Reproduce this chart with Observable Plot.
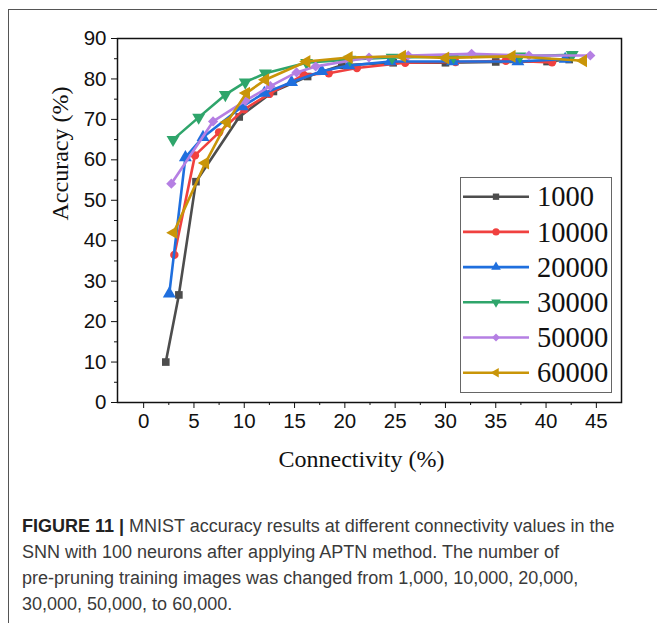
<!DOCTYPE html>
<html>
<head>
<meta charset="utf-8">
<script src="https://cdn.jsdelivr.net/npm/d3@7"></script>
<script src="https://cdn.jsdelivr.net/npm/@observablehq/plot@0.6"></script>
<style>
  html, body { margin: 0; padding: 0; background: #fff; }
  #page { position: relative; width: 657px; height: 623px; overflow: hidden; background: #fff; }
  #border { position: absolute; left: 8px; top: 8.5px; width: 700px; height: 700px;
            border-left: 1.5px solid #555; border-top: 1.5px solid #555; }
  #chart { position: absolute; left: 0; top: 0; }
  #legend { position: absolute; left: 460px; top: 177px; }
  #caption { position: absolute; left: 22px; top: 513px; width: 630px;
             font-family: "Liberation Sans Narrow", "Liberation Sans", Arial, sans-serif;
             font-size: 18px; line-height: 26px; color: #3a3a3a; }
  #caption b { color: #222; }
</style>
</head>
<body>
<div id="page">
  <div id="border"></div>
  <div id="chart"></div>
  <div id="legend"></div>
  <div id="caption"><b>FIGURE 11 |</b> MNIST accuracy results at different connectivity values in the<br>SNN with 100 neurons after applying APTN method. The number of<br>pre-pruning training images was changed from 1,000, 10,000, 20,000,<br>30,000, 50,000, to 60,000.</div>
</div>
<script>
// ---- data ----
const seriesNames = ["1000", "10000", "20000", "30000", "50000", "60000"];

const x1000 = [2.2, 3.5, 5.2, 9.5, 12.9, 16.3, 19.7, 24.8, 30.0, 35.0, 40.1, 42.3];
const y1000 = [10.0, 26.6, 54.6, 70.6, 76.9, 80.6, 83.4, 84.0, 84.0, 84.2, 84.3, 84.8];

const x10000 = [3.05, 5.1, 7.5, 10.0, 12.5, 15.9, 18.4, 21.2, 26.0, 31.0, 36.0, 40.6];
const y10000 = [36.5, 61.1, 66.8, 72.5, 76.3, 81.0, 81.4, 82.7, 84.0, 84.2, 84.5, 84.1];

const x20000 = [2.55, 4.15, 5.9, 9.8, 12.0, 14.7, 17.7, 20.4, 24.5, 30.7, 37.2, 41.9];
const y20000 = [26.9, 60.6, 65.6, 73.2, 76.5, 79.2, 81.9, 83.3, 84.3, 84.3, 84.3, 84.9];

const x30000 = [2.92, 5.47, 8.12, 10.1, 12.1, 16.2, 20.5, 24.7, 30.8, 37.4, 42.6];
const y30000 = [65.0, 70.5, 76.1, 79.2, 81.4, 84.0, 84.8, 85.3, 85.5, 85.6, 86.0];

const x50000 = [2.75, 6.9, 10.1, 12.6, 15.2, 17.1, 22.4, 26.3, 32.6, 38.3, 44.4];
const y50000 = [54.1, 69.5, 74.6, 78.2, 81.6, 83.1, 85.3, 85.8, 86.2, 85.8, 85.8];

const x60000 = [2.98, 6.13, 8.29, 10.2, 12.1, 16.2, 20.4, 25.7, 30.0, 36.6, 43.7];
const y60000 = [42.0, 59.2, 69.3, 76.5, 79.8, 84.3, 85.3, 85.6, 85.2, 85.6, 84.5];

const xTicks = [0, 5, 10, 15, 20, 25, 30, 35, 40, 45];
const yTicks = [0, 10, 20, 30, 40, 50, 60, 70, 80, 90];
const xTitle = "Connectivity (%)";
const yTitle = "Accuracy (%)";

// ---- styles ----
const colors = ["#4d4d4d", "#f0413f", "#1f6fde", "#2fa56b", "#b57fe3", "#c99508"];
const symbols = ["square", "circle", "triangle", "triangle", "diamond2", "triangle"];
const rotations = [0, 0, 0, 180, 0, -90];
const sizes = [4.3, 4.2, 4.8, 4.8, 4.6, 4.8];

const xsAll = [x1000, x10000, x20000, x30000, x50000, x60000];
const ysAll = [y1000, y10000, y20000, y30000, y50000, y60000];

const series = seriesNames.map((name, i) => ({
  name,
  data: xsAll[i].map((x, j) => ({x, y: ysAll[i][j]})),
  color: colors[i], symbol: symbols[i], rotate: rotations[i], r: sizes[i]
}));

const seriesMarks = series.flatMap(s => [
  Plot.line(s.data, {x: "x", y: "y", stroke: s.color, strokeWidth: 2.6}),
  Plot.dot(s.data, {x: "x", y: "y", symbol: s.symbol, r: s.r, fill: s.color, stroke: "none", rotate: s.rotate})
]);

const minorX = xTicks.slice(0, -1).map(t => t + 2.5);
const minorY = yTicks.slice(0, -1).map(t => t + 5);

const chart = Plot.plot({
  width: 657,
  height: 480,
  marginLeft: 117,
  marginRight: 36,
  marginTop: 38,
  marginBottom: 78,
  x: {domain: [-2.6, 47.5]},
  y: {domain: [0, 90]},
  style: {fontFamily: "'Liberation Sans', Arial, sans-serif", fontSize: "20.5px", color: "#111", background: "transparent", overflow: "visible"},
  marks: [
    Plot.axisX({ticks: xTicks, tickSize: 6, tickPadding: 5, label: null, fontSize: 20.5}),
    Plot.axisX({ticks: minorX, tickSize: 3, tickFormat: () => "", label: null}),
    Plot.axisY({ticks: yTicks, tickSize: 6, tickPadding: 5, label: null, fontSize: 20.5}),
    Plot.axisY({ticks: minorY, tickSize: 3, tickFormat: () => "", label: null}),
    ...seriesMarks,
    Plot.frame({stroke: "#111", strokeWidth: 1.5}),
    Plot.text([xTitle], {frameAnchor: "bottom", dx: -8, dy: 64, fontFamily: "'Liberation Serif', 'Times New Roman', serif", fontSize: 24, fill: "#111"}),
    Plot.text([yTitle], {frameAnchor: "left", dx: -57, rotate: -90, fontFamily: "'Liberation Serif', 'Times New Roman', serif", fontSize: 24, fill: "#111"})
  ]
});
document.getElementById("chart").appendChild(chart);

// ---- legend ----
const lw = 152, lh = 216;
const leg = d3.select("#legend").append("svg").attr("width", lw).attr("height", lh);
leg.append("rect").attr("x", 0.5).attr("y", 0.5).attr("width", lw - 1).attr("height", lh - 1)
  .attr("fill", "#fff").attr("stroke", "#666").attr("stroke-width", 1);
const symMap = {square: d3.symbolSquare, circle: d3.symbolCircle, triangle: d3.symbolTriangle, diamond2: d3.symbolDiamond2};
series.forEach((s, i) => {
  const cy = 19.7 + i * 35.2;
  const g = leg.append("g");
  g.append("line").attr("x1", 3).attr("x2", 69).attr("y1", cy).attr("y2", cy)
    .attr("stroke", s.color).attr("stroke-width", 2.6);
  g.append("path").attr("d", d3.symbol(symMap[s.symbol], 40)())
    .attr("transform", `translate(36,${cy}) rotate(${s.rotate})`).attr("fill", s.color);
  g.append("text").attr("x", 77).attr("y", cy).attr("dy", "0.34em")
    .attr("font-family", "'Liberation Serif', 'Times New Roman', serif").attr("font-size", 28.5)
    .attr("fill", "#111").text(s.name);
});
</script>
</body>
</html>
